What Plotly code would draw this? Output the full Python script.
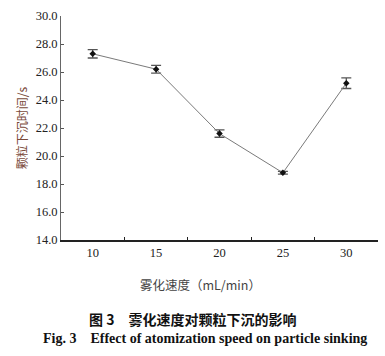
import plotly.graph_objects as go

speeds = ["10", "15", "20", "25", "30"]
sink_time = [27.3, 26.2, 21.6, 18.8, 25.2]
err = [0.3, 0.28, 0.26, 0.1, 0.38]
y_ticks = [14, 16, 18, 20, 22, 24, 26, 28, 30]
y_ticklabels = ["14.0", "16.0", "18.0", "20.0", "22.0", "24.0", "26.0", "28.0", "30.0"]

serif = "Liberation Serif"
cjk = "Noto Sans CJK SC"

fig = go.Figure()
fig.add_trace(go.Scatter(
    x=speeds, y=sink_time,
    mode="lines+markers",
    line=dict(color="#7a7a7a", width=1),
    marker=dict(symbol="diamond", size=5, color="#111111"),
    error_y=dict(type="data", array=err, visible=True, color="#555555",
                 thickness=1.3, width=5),
    showlegend=False,
))

fig.update_layout(
    width=385, height=356,
    margin=dict(l=61, r=7, t=16, b=116, autoexpand=False),
    paper_bgcolor="white", plot_bgcolor="white",
    xaxis=dict(
        type="category", range=[-0.5, 4.5], automargin=False,
        tickson="boundaries", ticks="inside", ticklen=3, tickcolor="#222",
        showline=True, linecolor="#222", linewidth=2,
        showgrid=False, zeroline=False,
        tickfont=dict(family=serif, size=12.5, color="#222"),
    ),
    yaxis=dict(
        range=[14, 30], tickvals=y_ticks, ticktext=y_ticklabels, automargin=False,
        ticks="inside", ticklen=3, tickcolor="#555",
        showline=True, linecolor="#666", linewidth=1,
        showgrid=False, zeroline=False,
        tickfont=dict(family=serif, size=12.5, color="#222"),
        title=dict(text="颗粒下沉时间/s", font=dict(family=cjk, size=12, color="#7a4a3a"),
                   standoff=5),
    ),
)

# x-axis title (page-centred like the reference)
fig.add_annotation(text="雾化速度（mL/min）", xref="paper", yref="paper",
                   x=(200 - 61) / 317, y=0, xanchor="center", yanchor="middle", yshift=-44,
                   showarrow=False, font=dict(family=cjk, size=12.5, color="#444"))
fig.add_annotation(text="<b>图 3　雾化速度对颗粒下沉的影响</b>", xref="paper", yref="paper",
                   x=(192 - 61) / 317, y=0, xanchor="center", yanchor="middle", yshift=-79,
                   showarrow=False, font=dict(family=cjk, size=14, color="#111"))
fig.add_annotation(text="<b>Fig. 3　Effect of atomization speed on particle sinking</b>",
                   xref="paper", yref="paper",
                   x=(205 - 61) / 317, y=0, xanchor="center", yanchor="middle", yshift=-98.5,
                   showarrow=False, font=dict(family=serif, size=14, color="#111"))

fig.write_html("out.html", config={"displayModeBar": False},
               post_script="document.body.style.margin='0';")
